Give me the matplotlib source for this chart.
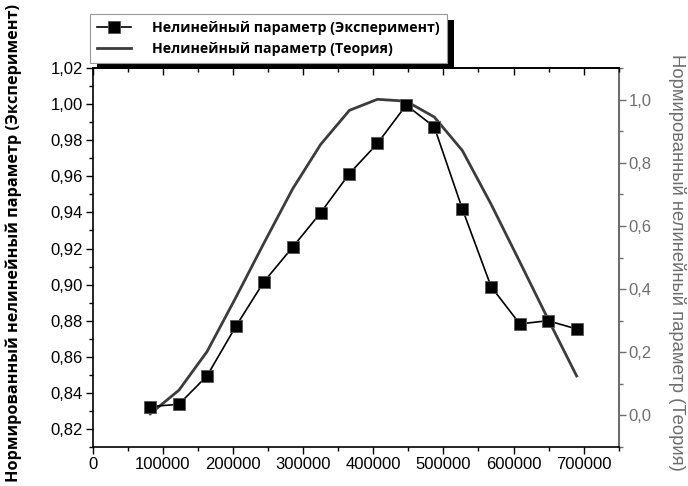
import numpy as np
import matplotlib.pyplot as plt
from matplotlib.ticker import MultipleLocator, FuncFormatter
from matplotlib.patches import Rectangle

# частота (Гц) и нормированные значения нелинейного параметра
freq = [82000, 123000, 163000, 204000, 244000, 285000, 325000, 366000,
        406000, 447000, 487000, 527000, 568000, 609000, 649000, 690000]
exp_vals = [0.8324, 0.8337, 0.8494, 0.8768, 0.9015, 0.9207, 0.9398, 0.9615,
            0.9782, 0.9995, 0.9874, 0.9420, 0.8989, 0.8782, 0.8800, 0.8754]
theory_vals = [0.005, 0.080, 0.202, 0.373, 0.545, 0.717, 0.858, 0.966,
               1.001, 0.995, 0.945, 0.839, 0.669, 0.486, 0.306, 0.125]

label_exp = 'Нелинейный параметр (Эксперимент)'
label_th = 'Нелинейный параметр (Теория)'

plt.rcParams['font.family'] = ['Liberation Sans', 'DejaVu Sans']
GRAY = '#6e6e6e'

fig = plt.figure(figsize=(6.88, 4.86), dpi=100)
ax = fig.add_axes([0.1347, 0.0802, 0.7646, 0.7798])
ax2 = ax.twinx()

ax.set_zorder(2)
ax.patch.set_visible(False)

ln_th, = ax2.plot(freq, theory_vals, color='#3c3c3c', lw=2.0, label=label_th)
ln_exp, = ax.plot(freq, exp_vals, color='black', lw=1.2, marker='s', ms=8,
                  mfc='black', mec='#555555', mew=0.6, label=label_exp)

ax.set_xlim(0, 750000)
ax.set_ylim(0.81, 1.02)
ax2.set_ylim(-0.10, 1.10)

comma2 = FuncFormatter(lambda v, p: f'{v:.2f}'.replace('.', ','))
comma1 = FuncFormatter(lambda v, p: f'{v:.1f}'.replace('.', ','))

ax.xaxis.set_major_locator(MultipleLocator(100000))
ax.xaxis.set_minor_locator(MultipleLocator(50000))
ax.xaxis.set_major_formatter(FuncFormatter(lambda v, p: f'{int(v)}'))
ax.yaxis.set_major_locator(MultipleLocator(0.02))
ax.yaxis.set_minor_locator(MultipleLocator(0.01))
ax.yaxis.set_major_formatter(comma2)

ax2.yaxis.set_major_locator(MultipleLocator(0.2))
ax2.yaxis.set_minor_locator(MultipleLocator(0.1))
ax2.yaxis.set_major_formatter(comma1)

ax.tick_params(axis='both', which='major', direction='out', length=5, width=1.0,
               labelsize=12, pad=2)
ax.tick_params(axis='both', which='minor', direction='out', length=3, width=1.0)
ax2.tick_params(axis='y', which='major', direction='out', length=5, width=1.0,
                colors=GRAY, labelsize=12, pad=2)
ax2.tick_params(axis='y', which='minor', direction='out', length=3, width=1.0,
                colors=GRAY)

# верхняя ось: только штрихи внутрь
top = ax.secondary_xaxis('top')
top.xaxis.set_major_locator(MultipleLocator(100000))
top.xaxis.set_minor_locator(MultipleLocator(50000))
top.tick_params(which='major', direction='in', length=5, width=1.0, labeltop=False)
top.tick_params(which='minor', direction='in', length=3, width=1.0)
top.spines['top'].set_linewidth(1.2)

for s in ['left', 'bottom', 'top']:
    ax.spines[s].set_linewidth(1.2)
ax.spines['right'].set_visible(False)
for s in ['left', 'bottom', 'top']:
    ax2.spines[s].set_visible(False)
ax2.spines['right'].set_color(GRAY)
ax2.spines['right'].set_linewidth(1.5)

fig.text(14 / 688, 1 - 243 / 486, 'Нормированный нелинейный параметр (Эксперимент)',
         rotation=90, ha='center', va='center', fontsize=11.7, fontweight='bold',
         family=['Open Sans', 'DejaVu Sans'])
fig.text(677 / 688, 1 - 262 / 486, 'Нормированный нелинейный параметр (Теория)',
         rotation=270, ha='center', va='center', fontsize=13.3, color=GRAY)

leg = fig.legend([ln_exp, ln_th], [label_exp, label_th], loc='upper left',
                 bbox_to_anchor=(90 / 688, 1 - 14 / 486), bbox_transform=fig.transFigure,
                 borderaxespad=0, frameon=True, fancybox=False, framealpha=1,
                 facecolor='white', handlelength=2.4, handletextpad=1.5,
                 labelspacing=0.5, borderpad=0.5,
                 prop={'family': ['Open Sans', 'DejaVu Sans'], 'weight': 'bold', 'size': 10.2})
leg.get_frame().set_edgecolor('#999999')
leg.get_frame().set_linewidth(0.8)

# чёрная тень под рамкой легенды
fig.canvas.draw()
bb = leg.get_window_extent()
shadow = Rectangle((bb.x0 + 7, bb.y0 - 6), bb.width, bb.height, transform=None,
                   facecolor='black', edgecolor='none', zorder=leg.get_zorder() - 1)
fig.patches.append(shadow)

fig.savefig('out.png', dpi=100)
